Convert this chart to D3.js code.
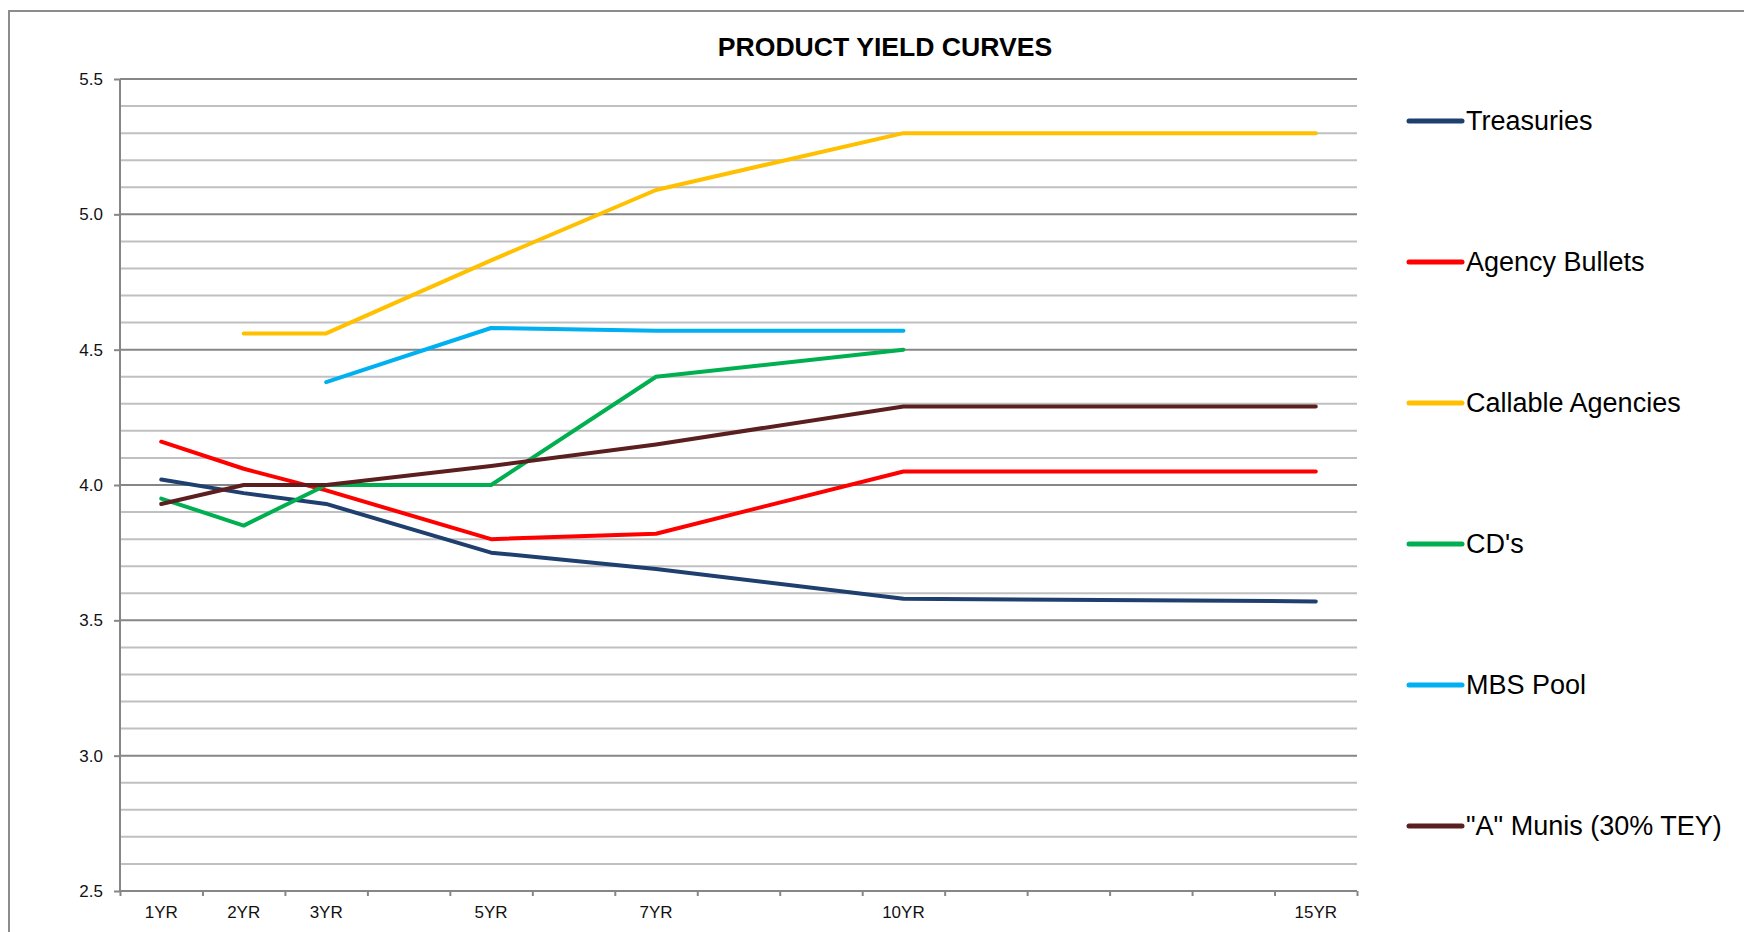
<!DOCTYPE html>
<html>
<head>
<meta charset="utf-8">
<script src="https://cdn.jsdelivr.net/npm/d3@7"></script>
<style>
  body { margin: 0; background: #fff; }
  text { font-family: "Liberation Sans", Arial, sans-serif; }
</style>
</head>
<body>
<div id="chart"></div>
<script>
// Datos
var years = [1, 2, 3, 5, 7, 10, 15];
var xLabels = ["1YR", "2YR", "3YR", "5YR", "7YR", "10YR", "15YR"];
var seriesNames = ["Treasuries", "Agency Bullets", "Callable Agencies", "CD's", "MBS Pool", "\"A\" Munis (30% TEY)"];
var treasuries = [4.02, 3.97, 3.93, 3.75, 3.69, 3.58, 3.57];
var agencyBullets = [4.16, 4.06, 3.98, 3.80, 3.82, 4.05, 4.05];
var callableAgencies = [null, 4.56, 4.56, 4.83, 5.09, 5.30, 5.30];
var cds = [3.95, 3.85, 4.00, 4.00, 4.40, 4.50, null];
var mbsPool = [null, null, 4.38, 4.58, 4.57, 4.57, null];
var munis = [3.93, 4.00, 4.00, 4.07, 4.15, 4.29, 4.29];
var colors = ["#1f3f6e", "#ff0000", "#ffc000", "#00b050", "#00b0f0", "#5b1f1f"];

var allSeries = [treasuries, agencyBullets, callableAgencies, cds, mbsPool, munis];

var W = 1744, H = 932;
var margin = {top: 79, right: 387, bottom: 41, left: 120};
var width = W - margin.left - margin.right;
var height = H - margin.top - margin.bottom;

var svg = d3.select('#chart').append('svg')
  .attr('width', W)
  .attr('height', H);

// marco exterior
svg.append('rect')
  .attr('x', 9).attr('y', 11)
  .attr('width', W + 20).attr('height', H + 20)
  .style('fill', 'none')
  .style('stroke', '#8c8c8c')
  .style('stroke-width', 2);

svg.append('text')
  .attr('x', 885).attr('y', 56)
  .style('text-anchor', 'middle')
  .style('font-weight', 'bold')
  .style('font-size', '26.6px')
  .style('fill', '#000')
  .text('PRODUCT YIELD CURVES');

var chart = svg.append('g')
  .attr('transform', 'translate(' + margin.left + ',' + margin.top + ')');

// escalas
var x = d3.scaleBand()
  .domain(d3.range(1, 16))
  .range([0, width])
  .padding(0);

var xEdges = d3.scaleLinear()
  .domain([0.5, 15.5])
  .range([0, width]);

var y = d3.scaleLinear()
  .domain([2.5, 5.5])
  .range([height, 0]);

// rejilla
var gridVals = d3.range(26, 56).map(function(d) { return d / 10; });
chart.append('g').classed('grid', true)
  .selectAll('line')
  .data(gridVals)
  .enter()
  .append('line')
  .attr('x1', 0)
  .attr('x2', width)
  .attr('y1', function(d) { return y(d); })
  .attr('y2', function(d) { return y(d); })
  .style('stroke', function(d) {
    return Math.round(d * 10) % 5 === 0 ? '#868686' : '#c0c0c0';
  })
  .style('stroke-width', 2);

// eje Y
var yAxis = d3.axisLeft(y)
  .tickValues([2.5, 3.0, 3.5, 4.0, 4.5, 5.0, 5.5])
  .tickFormat(d3.format('.1f'))
  .tickSize(6)
  .tickPadding(11);

var gy = chart.append('g').classed('y axis', true).call(yAxis);
gy.select('.domain').remove();
gy.append('line')
  .attr('x1', 0).attr('x2', 0)
  .attr('y1', 0).attr('y2', height)
  .style('stroke', '#868686')
  .style('stroke-width', 2);

// eje X: marcas en los limites y etiquetas centradas
var gxTicks = chart.append('g')
  .attr('transform', 'translate(0,' + height + ')')
  .call(d3.axisBottom(xEdges)
    .tickValues(d3.range(0.5, 16, 1))
    .tickFormat('')
    .tickSize(5)
    .tickSizeOuter(0));

gxTicks.select('.domain').remove();
gxTicks.append('line')
  .attr('x1', 0).attr('x2', width)
  .style('stroke', '#868686')
  .style('stroke-width', 2);

var gx = chart.append('g')
  .classed('x axis', true)
  .attr('transform', 'translate(0,' + height + ')')
  .call(d3.axisBottom(x)
    .tickValues(years)
    .tickFormat(function(d) { return xLabels[years.indexOf(d)]; })
    .tickSize(0)
    .tickPadding(15));
gx.select('.domain').remove();

chart.selectAll('.tick line').style('stroke', '#868686').style('stroke-width', 2);
chart.selectAll('.axis text')
  .style('font-size', '17px')
  .style('fill', '#111');

// lineas de las series
var line = d3.line()
  .defined(function(d) { return d.value !== null; })
  .x(function(d) { return x(d.year) + x.bandwidth() / 2; })
  .y(function(d) { return y(d.value); });

var dataSeries = chart.append('g').classed('data-series', true);

allSeries.forEach(function(values, i) {
  var pts = years.map(function(yr, j) { return {year: yr, value: values[j]}; });
  dataSeries.append('path')
    .datum(pts)
    .attr('d', line)
    .style('fill', 'none')
    .style('stroke', colors[i])
    .style('stroke-width', 4)
    .style('stroke-linejoin', 'round')
    .style('stroke-linecap', 'round');
});

// leyenda
var legend = svg.append('g').classed('legend', true);
var legendY = d3.scaleLinear().domain([0, 5]).range([121, 826]);

seriesNames.forEach(function(name, i) {
  var ly = legendY(i);
  legend.append('line')
    .attr('x1', 1409).attr('x2', 1462)
    .attr('y1', ly).attr('y2', ly)
    .style('stroke', colors[i])
    .style('stroke-width', 5)
    .style('stroke-linecap', 'round');
  legend.append('text')
    .attr('x', 1466)
    .attr('y', ly + 9)
    .style('font-size', '27px')
    .style('fill', '#000')
    .text(name);
});
</script>
</body>
</html>
